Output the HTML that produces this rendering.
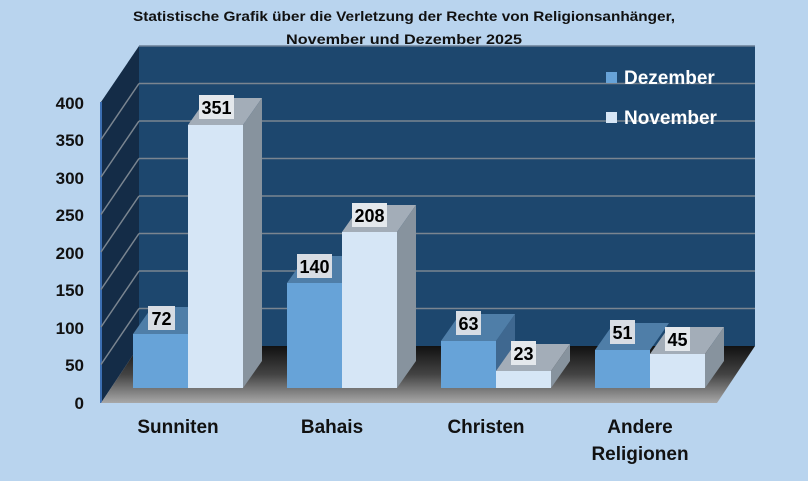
<!DOCTYPE html>
<html><head><meta charset="utf-8"><style>
html,body{margin:0;padding:0;background:#b9d4ee;}
svg{display:block;font-family:"Liberation Sans Narrow","Liberation Sans",sans-serif;font-weight:bold;}
</style></head><body>
<svg width="808" height="481" viewBox="0 0 808 481" xmlns="http://www.w3.org/2000/svg">
<defs>
<linearGradient id="fl" x1="0" y1="0" x2="0" y2="1">
<stop offset="0" stop-color="#111"/><stop offset="0.5" stop-color="#444"/><stop offset="1" stop-color="#a8a8a8"/>
</linearGradient>
</defs>
<rect x="0" y="0" width="808" height="481" fill="#b9d4ee"/>
<!-- back wall -->
<rect x="139" y="46" width="616" height="300" fill="#1d476e"/>
<line x1="139" y1="46" x2="755" y2="46" stroke="#6a7f95" stroke-width="1.5"/>
<!-- side wall -->
<polygon points="101,102 139,46 139,346 101,403" fill="#142c47"/>
<line x1="101" y1="102" x2="101" y2="403" stroke="#3c6fb3" stroke-width="2"/>
<g stroke="#7a8590" stroke-width="1.5">
<line x1="139" y1="83.5" x2="755" y2="83.5"/><line x1="101" y1="139.5" x2="139" y2="83.5"/>
<line x1="139" y1="121" x2="755" y2="121"/><line x1="101" y1="177" x2="139" y2="121"/>
<line x1="139" y1="158.5" x2="755" y2="158.5"/><line x1="101" y1="214.5" x2="139" y2="158.5"/>
<line x1="139" y1="196" x2="755" y2="196"/><line x1="101" y1="252" x2="139" y2="196"/>
<line x1="139" y1="233.5" x2="755" y2="233.5"/><line x1="101" y1="289.5" x2="139" y2="233.5"/>
<line x1="139" y1="271" x2="755" y2="271"/><line x1="101" y1="327" x2="139" y2="271"/>
<line x1="139" y1="308.5" x2="755" y2="308.5"/><line x1="101" y1="364.5" x2="139" y2="308.5"/>
</g>
<text x="404" y="21" font-size="13.5" text-anchor="middle" fill="#111" textLength="542" lengthAdjust="spacingAndGlyphs">Statistische Grafik über die Verletzung der Rechte von Religionsanhänger,</text>
<text x="404" y="44" font-size="13.5" text-anchor="middle" fill="#111" textLength="236" lengthAdjust="spacingAndGlyphs">November und Dezember 2025</text>
<!-- floor -->
<polygon points="101,403 139,346 755,346 717,403" fill="url(#fl)"/>
<!-- y labels -->
<g font-size="17" fill="#111" text-anchor="end" font-family="Liberation Sans,sans-serif">
<text x="84" y="109">400</text><text x="84" y="146">350</text><text x="84" y="184">300</text>
<text x="84" y="221">250</text><text x="84" y="259">200</text><text x="84" y="296">150</text>
<text x="84" y="334">100</text><text x="84" y="371">50</text><text x="84" y="409">0</text>
</g>
<g>
<polygon points="133,334 152,307 207,307 188,334" fill="#4f7ea8"/><rect x="133" y="334" width="55" height="54" fill="#67a3d8"/>
<polygon points="287,283 306,256 361,256 342,283" fill="#4f7ea8"/><rect x="287" y="283" width="55" height="105" fill="#67a3d8"/>
<polygon points="496,341 515,314 515,361 496,388" fill="#3f6890"/>
<polygon points="441,341 460,314 515,314 496,341" fill="#4f7ea8"/><rect x="441" y="341" width="55" height="47" fill="#67a3d8"/>
<polygon points="595,350 614,323 669,323 650,350" fill="#4f7ea8"/><rect x="595" y="350" width="55" height="38" fill="#67a3d8"/>
</g>
<g>
<polygon points="188,125 207,98 262,98 243,125" fill="#a3adb8"/><polygon points="243,125 262,98 262,361 243,388" fill="#87939e"/><rect x="188" y="125" width="55" height="263" fill="#d6e6f6"/>
<polygon points="342,232 361,205 416,205 397,232" fill="#a3adb8"/><polygon points="397,232 416,205 416,361 397,388" fill="#87939e"/><rect x="342" y="232" width="55" height="156" fill="#d6e6f6"/>
<polygon points="496,371 515,344 570,344 551,371" fill="#a3adb8"/><polygon points="551,371 570,344 570,361 551,388" fill="#87939e"/><rect x="496" y="371" width="55" height="17" fill="#d6e6f6"/>
<polygon points="650,354 669,327 724,327 705,354" fill="#a3adb8"/><polygon points="705,354 724,327 724,361 705,388" fill="#87939e"/><rect x="650" y="354" width="55" height="34" fill="#d6e6f6"/>
</g>
<g font-size="18" fill="#000" text-anchor="middle" font-family="Liberation Sans,sans-serif">
<rect x="148" y="306" width="27" height="24" fill="#d8dde4"/><text x="161.5" y="325">72</text>
<rect x="199" y="95" width="35" height="24" fill="#e4e8ec"/><text x="216.5" y="114">351</text>
<rect x="297" y="254" width="35" height="24" fill="#d8dde4"/><text x="314.5" y="273">140</text>
<rect x="352" y="203" width="35" height="24" fill="#e4e8ec"/><text x="369.5" y="222">208</text>
<rect x="456" y="311" width="25" height="24" fill="#d8dde4"/><text x="468.5" y="330">63</text>
<rect x="511" y="341" width="25" height="24" fill="#e4e8ec"/><text x="523.5" y="360">23</text>
<rect x="610" y="320" width="25" height="24" fill="#d8dde4"/><text x="622.5" y="339">51</text>
<rect x="665" y="327" width="25" height="24" fill="#e4e8ec"/><text x="677.5" y="346">45</text>
</g>
<rect x="606" y="72" width="11" height="11" fill="#67a3d8"/>
<text x="624" y="84" font-size="19" fill="#fff" font-family="Liberation Sans,sans-serif">Dezember</text>
<rect x="606" y="112" width="11" height="11" fill="#d6e6f6"/>
<text x="624" y="124" font-size="19" fill="#fff" font-family="Liberation Sans,sans-serif">November</text>
<g font-size="19" fill="#111" text-anchor="middle" font-family="Liberation Sans,sans-serif">
<text x="178" y="433">Sunniten</text>
<text x="332" y="433">Bahais</text>
<text x="486" y="433">Christen</text>
<text x="640" y="433">Andere</text>
<text x="640" y="460">Religionen</text>
</g>
</svg>
</body></html>
